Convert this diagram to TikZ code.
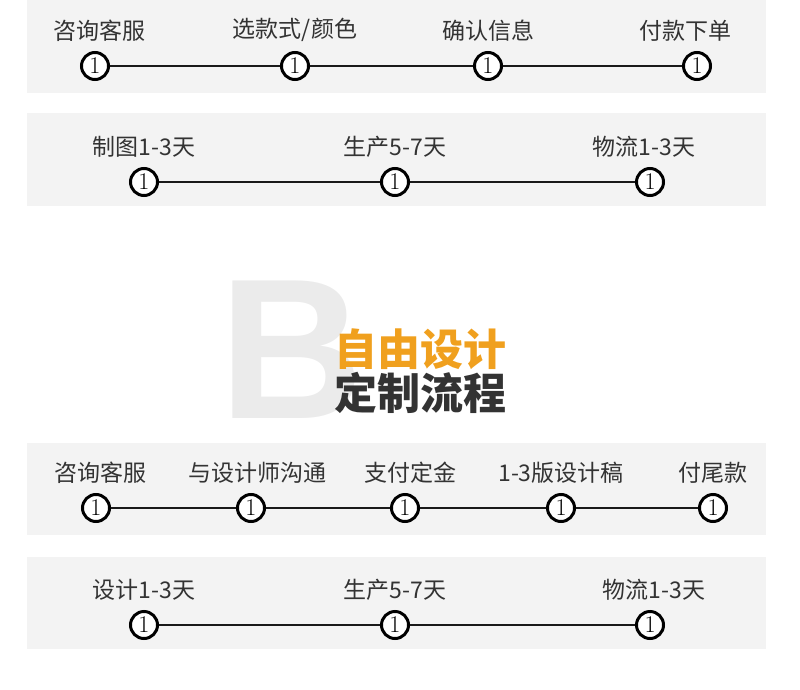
\documentclass[tikz,border=0pt]{standalone}
\usepackage{fontspec}
\setmainfont{Noto Sans CJK SC}
\newfontfamily\bigfont{Liberation Sans}[BoldFont={* Bold}]
\usetikzlibrary{positioning}

\definecolor{bandgray}{HTML}{F3F3F3}
\definecolor{bgray}{HTML}{EBEBEB}
\definecolor{textgray}{HTML}{333333}
\definecolor{titleorange}{HTML}{F0A01E}
\definecolor{titledark}{HTML}{333333}

\begin{document}
\begin{tikzpicture}[
        x=1pt, y=-1pt,
        node distance=9pt,
        band/.style={fill=bandgray},
        stepnum/.style={circle, draw=black, line width=3pt, fill=white,
            minimum size=27pt, inner sep=0pt,
            font=\fontspec{Latin Modern Roman}\fontsize{24}{24}\selectfont},
        steplabel/.style={inner sep=0pt, text=textgray,
            font=\fontsize{23}{26}\selectfont},
        link/.style={line width=2.2pt, draw=black!90},
    ]
        \useasboundingbox (0,0) rectangle (800,690);

        % grey bands
        \fill[band] (27,0) rectangle (766,93);
        \fill[band] (27,113) rectangle (766,206);
        \fill[band] (27,443) rectangle (766,535);
        \fill[band] (27,557) rectangle (766,649);

        % band 1
        \node (a1) [stepnum] at (95,66) {1};
        \node (a2) [stepnum] at (295,66) {1};
        \node (a3) [stepnum] at (488,66) {1};
        \node (a4) [stepnum] at (697,66) {1};
        \draw [link] (a1) -- (a2);
        \draw [link] (a2) -- (a3);
        \draw [link] (a3) -- (a4);
        \node (la1) [steplabel, above=of a1, xshift=4pt] {咨询客服};
        \node (la2) [steplabel, above=of a2] {选款式/颜色};
        \node (la3) [steplabel, above=of a3] {确认信息};
        \node (la4) [steplabel, above=of a4, xshift=-12pt] {付款下单};

        % band 2
        \node (b1) [stepnum] at (144,182) {1};
        \node (b2) [stepnum] at (395,182) {1};
        \node (b3) [stepnum] at (650,182) {1};
        \draw [link] (b1) -- (b2);
        \draw [link] (b2) -- (b3);
        \node (lb1) [steplabel, above=of b1] {制图1-3天};
        \node (lb2) [steplabel, above=of b2] {生产5-7天};
        \node (lb3) [steplabel, above=of b3, xshift=-6pt] {物流1-3天};

        % big letter and title
        \node (bigB) [anchor=base west, inner sep=0pt, text=bgray,
            font=\bigfont\bfseries\fontsize{200}{200}\selectfont] at (219,418) {B};
        \node (title1) [anchor=base west, inner sep=0pt, text=titleorange,
            font=\bfseries\fontsize{43}{43}\selectfont] at (334,365) {自由设计};
        \node (title2) [anchor=base west, inner sep=0pt, text=titledark,
            font=\bfseries\fontsize{43}{43}\selectfont] at (334,409) {定制流程};

        % band 3
        \node (c1) [stepnum] at (96,508) {1};
        \node (c2) [stepnum] at (251,508) {1};
        \node (c3) [stepnum] at (405,508) {1};
        \node (c4) [stepnum] at (561,508) {1};
        \node (c5) [stepnum] at (713,508) {1};
        \draw [link] (c1) -- (c2);
        \draw [link] (c2) -- (c3);
        \draw [link] (c3) -- (c4);
        \draw [link] (c4) -- (c5);
        \node (lc1) [steplabel, above=of c1, xshift=4pt] {咨询客服};
        \node (lc2) [steplabel, above=of c2, xshift=6pt] {与设计师沟通};
        \node (lc3) [steplabel, above=of c3, xshift=5pt] {支付定金};
        \node (lc4) [steplabel, above=of c4] {1-3版设计稿};
        \node (lc5) [steplabel, above=of c5] {付尾款};

        % band 4
        \node (d1) [stepnum] at (144,625) {1};
        \node (d2) [stepnum] at (395,625) {1};
        \node (d3) [stepnum] at (650,625) {1};
        \draw [link] (d1) -- (d2);
        \draw [link] (d2) -- (d3);
        \node (ld1) [steplabel, above=of d1] {设计1-3天};
        \node (ld2) [steplabel, above=of d2] {生产5-7天};
        \node (ld3) [steplabel, above=of d3, xshift=4pt] {物流1-3天};
    \end{tikzpicture}
\end{document}
